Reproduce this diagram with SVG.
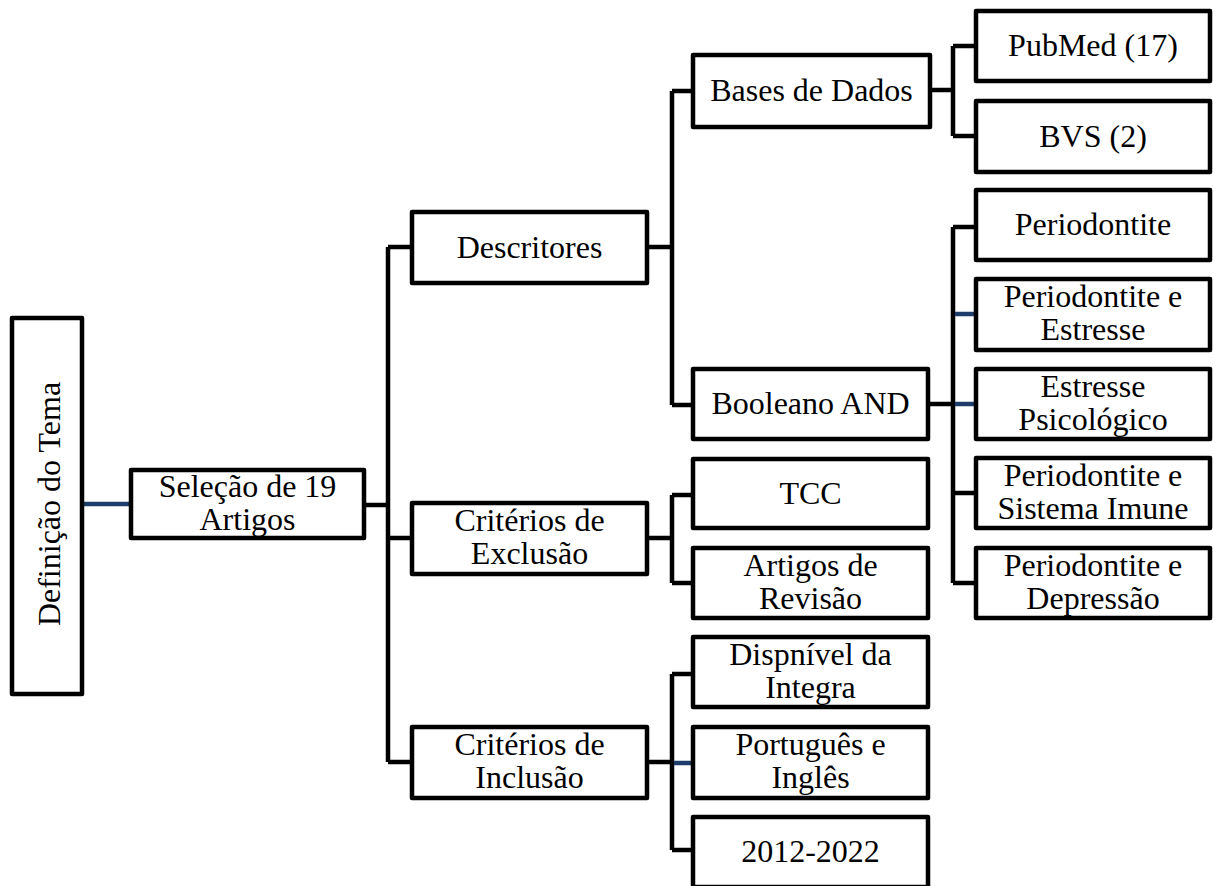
<svg xmlns="http://www.w3.org/2000/svg" width="1213" height="886" viewBox="0 0 1213 886">
<style>
.box{fill:#fff;stroke:#000;stroke-width:4.5;stroke-linejoin:round}
.t{font-family:"Liberation Serif","Times New Roman",serif;font-size:32px;fill:#000;text-anchor:middle}
.c{fill:none;stroke:#000;stroke-width:4.5}
.b{fill:none;stroke:#1F3D6B;stroke-width:4.5}
</style>
<rect width="1213" height="886" fill="#fff"/>
<g id="connectors">
<path class="b" d="M82,504 H131"/>
<path class="c" d="M364,505 H388 M388,247 V762 M388,247 H412 M388,538 H412 M388,762 H412"/>
<path class="c" d="M647,247 H672 M672,91 V405 M672,91 H693 M672,405 H693"/>
<path class="c" d="M930,90 H953 M953,46 V136 M953,46 H976 M953,136 H976"/>
<path class="c" d="M928,404 H953 M953,227 V583 M953,227 H976 M953,493 H976 M953,583 H976"/>
<path class="b" d="M955,314 H976 M955,404 H976"/>
<path class="c" d="M647,538 H672 M672,495 V583 M672,495 H693 M672,583 H693"/>
<path class="c" d="M647,762 H672 M672,674 V850 M672,674 H693 M672,850 H693"/>
<path class="b" d="M674,763 H693"/>
</g>
<g id="definicao"><rect class="box" x="12" y="318" width="70" height="376"/><text class="t" transform="translate(60,504) rotate(-90)">Definição do Tema</text></g>
<g id="selecao"><rect class="box" x="131" y="470" width="233" height="68"/><text class="t" x="247.5" y="496.5">Seleção de 19</text><text class="t" x="247.5" y="529.5">Artigos</text></g>
<g id="descritores"><rect class="box" x="412" y="212" width="235" height="71"/><text class="t" x="529.5" y="257.5">Descritores</text></g>
<g id="exclusao"><rect class="box" x="412" y="503" width="235" height="71"/><text class="t" x="529.5" y="531">Critérios de</text><text class="t" x="529.5" y="564">Exclusão</text></g>
<g id="inclusao"><rect class="box" x="412" y="727" width="235" height="71"/><text class="t" x="529.5" y="755">Critérios de</text><text class="t" x="529.5" y="788">Inclusão</text></g>
<g id="bases"><rect class="box" x="693" y="55" width="237" height="72"/><text class="t" x="811.5" y="101">Bases de Dados</text></g>
<g id="booleano"><rect class="box" x="693" y="369" width="235" height="70"/><text class="t" x="810.5" y="414">Booleano AND</text></g>
<g id="tcc"><rect class="box" x="693" y="459" width="235" height="69"/><text class="t" x="810.5" y="503.5">TCC</text></g>
<g id="revisao"><rect class="box" x="693" y="548" width="235" height="70"/><text class="t" x="810.5" y="575.5">Artigos de</text><text class="t" x="810.5" y="608.5">Revisão</text></g>
<g id="integra"><rect class="box" x="693" y="637" width="235" height="70"/><text class="t" x="810.5" y="664.5">Dispnível da</text><text class="t" x="810.5" y="697.5">Integra</text></g>
<g id="idiomas"><rect class="box" x="693" y="727" width="235" height="71"/><text class="t" x="810.5" y="755">Português e</text><text class="t" x="810.5" y="788">Inglês</text></g>
<g id="periodo"><rect class="box" x="693" y="817" width="235" height="70"/><text class="t" x="810.5" y="862">2012-2022</text></g>
<g id="pubmed"><rect class="box" x="976" y="11" width="234" height="70"/><text class="t" x="1093" y="56">PubMed (17)</text></g>
<g id="bvs"><rect class="box" x="976" y="101" width="234" height="71"/><text class="t" x="1093" y="146.5">BVS (2)</text></g>
<g id="periodontite"><rect class="box" x="976" y="190" width="234" height="70"/><text class="t" x="1093" y="235">Periodontite</text></g>
<g id="per-estresse"><rect class="box" x="976" y="279" width="234" height="71"/><text class="t" x="1093" y="307">Periodontite e</text><text class="t" x="1093" y="340">Estresse</text></g>
<g id="estresse-psi"><rect class="box" x="976" y="369" width="234" height="70"/><text class="t" x="1093" y="396.5">Estresse</text><text class="t" x="1093" y="429.5">Psicológico</text></g>
<g id="per-imune"><rect class="box" x="976" y="458" width="234" height="70"/><text class="t" x="1093" y="485.5">Periodontite e</text><text class="t" x="1093" y="518.5">Sistema Imune</text></g>
<g id="per-depressao"><rect class="box" x="976" y="548" width="234" height="70"/><text class="t" x="1093" y="575.5">Periodontite e</text><text class="t" x="1093" y="608.5">Depressão</text></g>
</svg>
